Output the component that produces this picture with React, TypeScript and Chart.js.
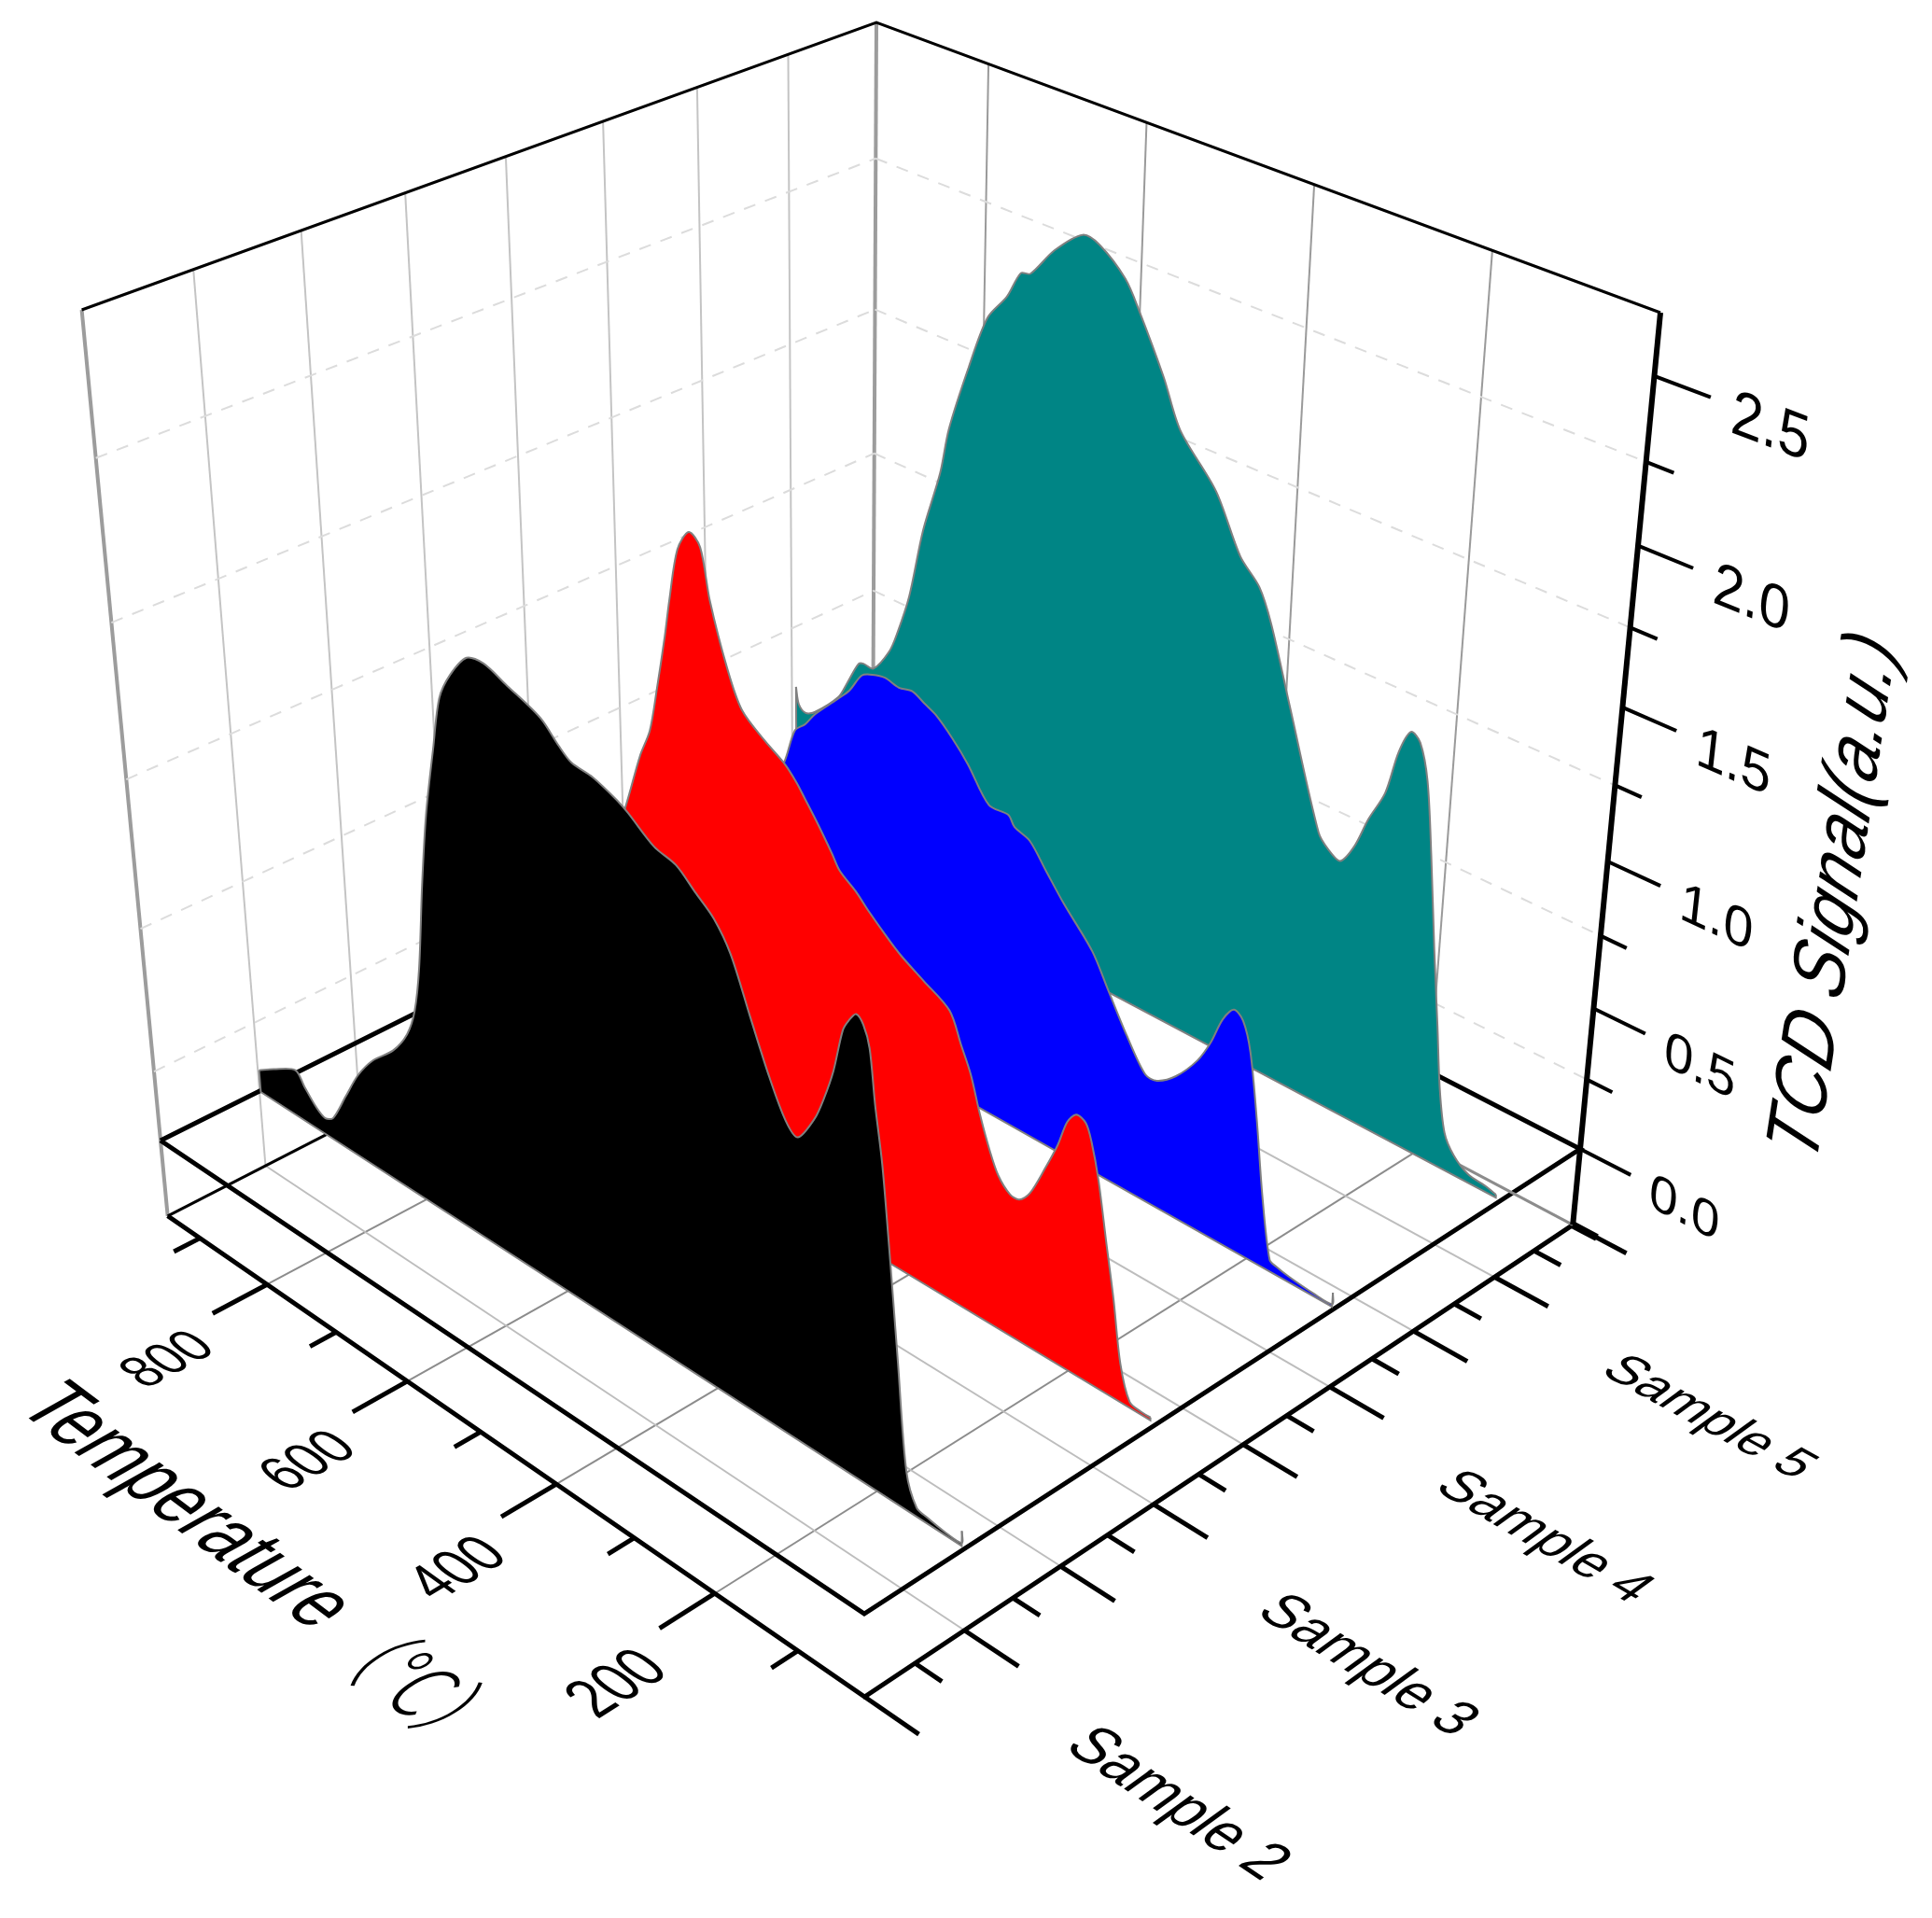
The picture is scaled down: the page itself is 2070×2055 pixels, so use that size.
import { useEffect, useRef } from "react"
import { Chart, registerables } from "chart.js"

Chart.register(...registerables)

// curves: temperature (deg C) and TCD signal per sample
const sample2Temp = [947,924,890,878,862,849,837,816,795,771,741,719,706,696,685,674,659,647,631,608,586,557,527,513,494,479,453,424,411,380,354,332,310,291,269,248,229,215,195,184,173,162,155,147,139,132,126,118,111,106,100,90,78,66,46,26,26]
const sample2Signal = [0.08,0.12,0.17,0.13,0.08,0.06,0.08,0.19,0.3,0.39,0.47,0.56,0.66,0.82,1.11,1.35,1.58,1.75,1.84,1.92,1.93,1.9,1.87,1.85,1.8,1.77,1.76,1.73,1.71,1.65,1.63,1.58,1.53,1.45,1.29,1.14,1.03,1,1.09,1.17,1.27,1.41,1.45,1.48,1.46,1.4,1.24,1.07,0.85,0.68,0.47,0.13,0.03,0.02,0.01,0.01,0.05]
const sample3Temp = [948,892,834,764,708,680,658,644,633,621,614,602,587,573,562,542,524,496,472,457,446,430,413,404,384,369,343,328,302,271,257,245,234,222,211,197,186,174,157,143,133,123,112,105,96,85,75,65,53,40,29]
const sample3Signal = [0.07,0.12,0.27,0.54,0.85,1.06,1.26,1.36,1.51,1.69,1.81,1.98,2.05,2.02,1.87,1.69,1.58,1.52,1.48,1.44,1.4,1.34,1.27,1.23,1.19,1.15,1.09,1.06,1.02,0.97,0.88,0.8,0.69,0.59,0.52,0.48,0.48,0.52,0.63,0.73,0.82,0.86,0.85,0.8,0.69,0.5,0.33,0.13,0.02,0.01,0.01]
const sample4Temp = [946,879,810,743,717,702,688,675,645,629,613,599,583,565,548,533,518,497,477,450,426,418,399,379,356,320,300,276,252,238,216,192,178,165,153,142,132,121,110,98,90,75,46,25,25]
const sample4Signal = [0.09,0.15,0.39,0.72,0.86,0.99,1.03,1.08,1.17,1.22,1.29,1.31,1.32,1.31,1.32,1.3,1.28,1.23,1.17,1.07,1.07,1.04,1.02,0.95,0.87,0.76,0.66,0.54,0.44,0.44,0.49,0.58,0.66,0.76,0.81,0.79,0.7,0.49,0.24,0.04,0.03,0.02,0.01,0.01,0.05]
const sample5Temp = [943,939,929,916,882,869,853,846,832,810,799,783,765,743,732,707,684,660,643,631,602,568,547,515,497,465,443,398,366,342,326,300,258,246,231,216,202,185,173,161,150,139,129,118,108,100,91,79,61,39,28]
const sample5Signal = [0.54,0.48,0.46,0.48,0.58,0.65,0.74,0.75,0.75,0.84,0.92,1.07,1.32,1.54,1.7,1.93,2.11,2.2,2.29,2.3,2.4,2.48,2.47,2.4,2.32,2.15,2.01,1.87,1.7,1.63,1.53,1.3,0.93,0.89,0.87,0.94,1.05,1.16,1.31,1.39,1.37,1.26,1.03,0.73,0.48,0.27,0.13,0.07,0.03,0.02,0.01]

const tempMajor = [800, 600, 400, 200]
const tempMinor = [900, 700, 500, 300, 100]
const sampleMajor = [1.5, 2, 2.5, 3, 3.5, 4, 4.5, 5, 5.5]
const sampleMinor = [1.75, 2.25, 2.75, 3.25, 3.75, 4.25, 4.75, 5.25]
const sampleLabels = ["Sample 2", "Sample 3", "Sample 4", "Sample 5"]
const sampleTicks = [2, 3, 4, 5]
const signalMajor = [0, 0.5, 1, 1.5, 2, 2.5]
const signalMinor = [0.25, 0.75, 1.25, 1.75, 2.25]

// axis ranges of the box
const T_LEFT = 949
const T_RIGHT = 22
const S_MIN = 1.5
const S_MAX = 5.5
const Z_TOP = 2.68
const Z_FLOOR = -0.28

// perspective of the box: where its floor and top corners land on the page
const floorQuad = [[172, 1222], [926, 1729], [1693, 1231], [935, 841]]
const topQuad = [[87.6, 332], [922, 749], [1779, 335], [939, 24]]
const Z_DEPTH = 0.88

function squareToQuad(q: number[][]) {
  const [p0, p1, p2, p3] = q
  const dx1 = p1[0] - p2[0], dx2 = p3[0] - p2[0], sx = p0[0] - p1[0] + p2[0] - p3[0]
  const dy1 = p1[1] - p2[1], dy2 = p3[1] - p2[1], sy = p0[1] - p1[1] + p2[1] - p3[1]
  const den = dx1 * dy2 - dx2 * dy1
  const g = (sx * dy2 - dx2 * sy) / den
  const h = (dx1 * sy - sx * dy1) / den
  return (u: number, v: number) => {
    const w = g * u + h * v + 1
    return [
      ((p1[0] - p0[0] + g * p1[0]) * u + (p3[0] - p0[0] + h * p3[0]) * v + p0[0]) / w,
      ((p1[1] - p0[1] + g * p1[1]) * u + (p3[1] - p0[1] + h * p3[1]) * v + p0[1]) / w,
    ]
  }
}

const floorMap = squareToQuad(floorQuad)
const topMap = squareToQuad(topQuad)

// temperature, sample, signal -> page position
function project(temp: number, sample: number, signal: number) {
  const u = (T_LEFT - temp) / (T_LEFT - T_RIGHT)
  const v = (sample - S_MIN) / (S_MAX - S_MIN)
  const t = signal / Z_TOP
  const w = (Z_DEPTH * t) / (1 - t + Z_DEPTH * t)
  const a = floorMap(u, v)
  const b = topMap(u, v)
  return { x: a[0] + (b[0] - a[0]) * w, y: a[1] + (b[1] - a[1]) * w }
}

function line(points: number[][], color: string, width: number, order: number, dash?: number[]) {
  return {
    data: points.map((p) => project(p[0], p[1], p[2])),
    showLine: true,
    borderColor: color,
    borderWidth: width,
    borderDash: dash || [],
    pointRadius: 0,
    order,
  }
}

function ribbon(temps: number[], signal: number[], sample: number, color: string, order: number) {
  return {
    data: temps.map((t, i) => project(t, sample, signal[i])),
    showLine: true,
    tension: 0.3,
    borderColor: "#808080",
    borderWidth: 2,
    backgroundColor: color,
    ribbonBase: [project(temps[temps.length - 1], sample, 0), project(temps[0], sample, 0)],
    pointRadius: 0,
    order,
  }
}

function frameDatasets() {
  const out: any[] = []
  const gridOrder = 30
  const edgeOrder = 20
  for (const z of signalMinor) {
    out.push(line([[T_LEFT, S_MIN, z], [T_LEFT, S_MAX, z]], "#dcdcdc", 2, gridOrder, [13, 11]))
    out.push(line([[T_LEFT, S_MAX, z], [T_RIGHT, S_MAX, z]], "#dcdcdc", 2, gridOrder, [13, 11]))
  }
  for (const s of sampleMajor.slice(1, -1)) {
    out.push(line([[T_LEFT, s, Z_FLOOR], [T_LEFT, s, Z_TOP]], "#c4c4c4", 2, gridOrder))
    out.push(line([[T_LEFT, s, Z_FLOOR], [T_RIGHT, s, Z_FLOOR]], "#bdbdbd", 2, gridOrder))
  }
  for (const t of tempMajor) {
    out.push(line([[t, S_MAX, Z_FLOOR], [t, S_MAX, Z_TOP]], "#9a9a9a", 2, gridOrder))
    out.push(line([[t, S_MIN, Z_FLOOR], [t, S_MAX, Z_FLOOR]], "#8c8c8c", 2, gridOrder))
  }
  // walls and top edge
  out.push(line([[T_LEFT, S_MIN, Z_FLOOR], [T_LEFT, S_MIN, Z_TOP]], "#9c9c9c", 4, gridOrder))
  out.push(line([[T_LEFT, S_MAX, Z_FLOOR], [T_LEFT, S_MAX, Z_TOP]], "#9c9c9c", 4, gridOrder))
  out.push(line([[T_LEFT, S_MIN, Z_TOP], [T_LEFT, S_MAX, Z_TOP], [T_RIGHT, S_MAX, Z_TOP]], "#000", 3, edgeOrder))
  // lower plate
  out.push(line([[T_LEFT, S_MIN, Z_FLOOR], [T_LEFT, S_MAX, Z_FLOOR]], "#000", 3, edgeOrder))
  out.push(line([[T_LEFT, S_MAX, Z_FLOOR], [T_RIGHT, S_MAX, Z_FLOOR]], "#8c8c8c", 3, edgeOrder))
  out.push(line([[T_LEFT, S_MIN, Z_FLOOR], [T_RIGHT, S_MIN, Z_FLOOR], [T_RIGHT, S_MAX, Z_FLOOR]], "#000", 5, edgeOrder))
  // upper plate at signal 0
  out.push(line([[T_LEFT, S_MIN, 0], [T_RIGHT, S_MIN, 0], [T_RIGHT, S_MAX, 0], [T_LEFT, S_MAX, 0], [T_LEFT, S_MIN, 0]], "#000", 5, edgeOrder))
  // signal axis
  out.push(line([[T_RIGHT, S_MAX, Z_FLOOR], [T_RIGHT, S_MAX, Z_TOP]], "#000", 6, 5))
  out.push(line([[T_RIGHT, S_MAX, Z_FLOOR], [T_RIGHT - 28, S_MAX, Z_FLOOR]], "#000", 8, 5))
  // ticks
  for (const t of tempMajor) out.push(line([[t, S_MIN, Z_FLOOR], [t, S_MIN - 0.27, Z_FLOOR]], "#000", 5, edgeOrder))
  for (const t of tempMinor) out.push(line([[t, S_MIN, Z_FLOOR], [t, S_MIN - 0.13, Z_FLOOR]], "#000", 5, edgeOrder))
  for (const s of sampleMajor) out.push(line([[T_RIGHT, s, Z_FLOOR], [T_RIGHT - 62, s, Z_FLOOR]], "#000", 5, edgeOrder))
  for (const s of sampleMinor) out.push(line([[T_RIGHT, s, Z_FLOOR], [T_RIGHT - 31, s, Z_FLOOR]], "#000", 5, edgeOrder))
  for (const z of signalMajor) out.push(line([[T_RIGHT, S_MAX, z], [T_RIGHT - 58, S_MAX, z]], "#000", 4, edgeOrder))
  for (const z of signalMinor) out.push(line([[T_RIGHT, S_MAX, z], [T_RIGHT - 29, S_MAX, z]], "#000", 4, edgeOrder))
  return out
}

// text lying in one of the box planes, base and up are data units per em
function planeText(ctx: CanvasRenderingContext2D, text: string, font: string, at: number[], base: number[], up: number[]) {
  const along = (d: number[], k: number) => project(at[0] + d[0] * k, at[1] + d[1] * k, at[2] + d[2] * k)
  const b0 = along(base, -0.05), b1 = along(base, 0.05)
  const u0 = along(up, -0.05), u1 = along(up, 0.05)
  const p = along(base, 0)
  ctx.save()
  ctx.transform((b1.x - b0.x) / 10, (b1.y - b0.y) / 10, -(u1.x - u0.x) / 10, -(u1.y - u0.y) / 10, p.x, p.y)
  ctx.font = font
  ctx.fillStyle = "#000"
  ctx.textAlign = "center"
  ctx.textBaseline = "middle"
  ctx.fillText(text, 0, 0)
  ctx.restore()
}

// the area under a curve, down to its base on the signal 0 plane
const ribbonFill = {
  id: "ribbonFill",
  beforeDatasetDraw(chart: any, args: any) {
    const ds = chart.data.datasets[args.index]
    if (!ds.ribbonBase) return
    const meta = chart.getDatasetMeta(args.index)
    meta.dataset.updateControlPoints(chart.chartArea, "x")
    const pts = meta.data
    const ctx = chart.ctx
    ctx.save()
    ctx.beginPath()
    pts.forEach((p: any, i: number) => {
      if (i === 0) ctx.moveTo(p.x, p.y)
      else ctx.bezierCurveTo(pts[i - 1].cp2x, pts[i - 1].cp2y, p.cp1x, p.cp1y, p.x, p.y)
    })
    ctx.lineTo(ds.ribbonBase[0].x, ds.ribbonBase[0].y)
    ctx.lineTo(ds.ribbonBase[1].x, ds.ribbonBase[1].y)
    ctx.closePath()
    ctx.fillStyle = ds.backgroundColor
    ctx.fill()
    ctx.beginPath()
    ctx.moveTo(pts[pts.length - 1].x, pts[pts.length - 1].y)
    ctx.lineTo(ds.ribbonBase[0].x, ds.ribbonBase[0].y)
    ctx.lineTo(ds.ribbonBase[1].x, ds.ribbonBase[1].y)
    ctx.lineTo(pts[0].x, pts[0].y)
    ctx.strokeStyle = ds.borderColor
    ctx.lineWidth = 2
    ctx.stroke()
    ctx.restore()
  },
}

const boxLabels = {
  id: "boxLabels",
  afterDatasetsDraw(chart: any) {
    const ctx = chart.ctx
    const sans = "100px 'Liberation Sans'"
    tempMajor.forEach((t) => {
      planeText(ctx, String(t), sans, [t - 28, 0.925, Z_FLOOR], [0, 0.21, 0], [68, 0, 0])
    })
    sampleTicks.forEach((s, i) => {
      planeText(ctx, sampleLabels[i], sans, [T_RIGHT - 261, s - 0.12, Z_FLOOR], [-50, 0, 0], [0, 0.26, 0])
    })
    signalMajor.forEach((z) => {
      planeText(ctx, z.toFixed(1), sans, [T_RIGHT - 119, S_MAX, z - 0.025], [-56, 0, 0], [0, 0, 0.18])
    })
    planeText(ctx, "Temperature", sans, [599, 0.43, Z_FLOOR], [-74, 0, 0], [0, 0.36, 0])
    planeText(ctx, "（℃）", "300 100px 'Noto Sans CJK SC'", [288, 0.42, Z_FLOOR], [-62, 0, 0], [0, 0.36, 0])
    planeText(ctx, "TCD Signal(a.u.)", "italic 100px 'Liberation Sans'", [T_RIGHT - 235, S_MAX, 1.21], [-2, 0, 0.225], [75, 0, 0])
  },
}

export default function App() {
  const chartRef = useRef<HTMLCanvasElement>(null)

  useEffect(() => {
    if (!chartRef.current) return
    const chart = new Chart(chartRef.current, {
      type: "scatter",
      data: {
        datasets: [
          ribbon(sample2Temp, sample2Signal, sampleTicks[0], "#000000", 1),
          ribbon(sample3Temp, sample3Signal, sampleTicks[1], "#ff0000", 2),
          ribbon(sample4Temp, sample4Signal, sampleTicks[2], "#0000ff", 3),
          ribbon(sample5Temp, sample5Signal, sampleTicks[3], "#008585", 4),
          ...frameDatasets(),
        ] as any,
      },
      options: {
        responsive: false,
        animation: false,
        devicePixelRatio: 1,
        layout: { padding: 0 },
        scales: {
          x: { type: "linear", min: 0, max: 2070, display: false },
          y: { type: "linear", min: 0, max: 2055, reverse: true, display: false },
        },
        plugins: { legend: { display: false }, tooltip: { enabled: false } },
      },
      plugins: [ribbonFill, boxLabels],
    })
    return () => chart.destroy()
  }, [])

  return (
    <div style={{ position: "fixed", left: 0, top: 0, width: 2070, height: 2055, background: "#fff" }}>
      <canvas ref={chartRef} width={2070} height={2055} />
    </div>
  )
}
